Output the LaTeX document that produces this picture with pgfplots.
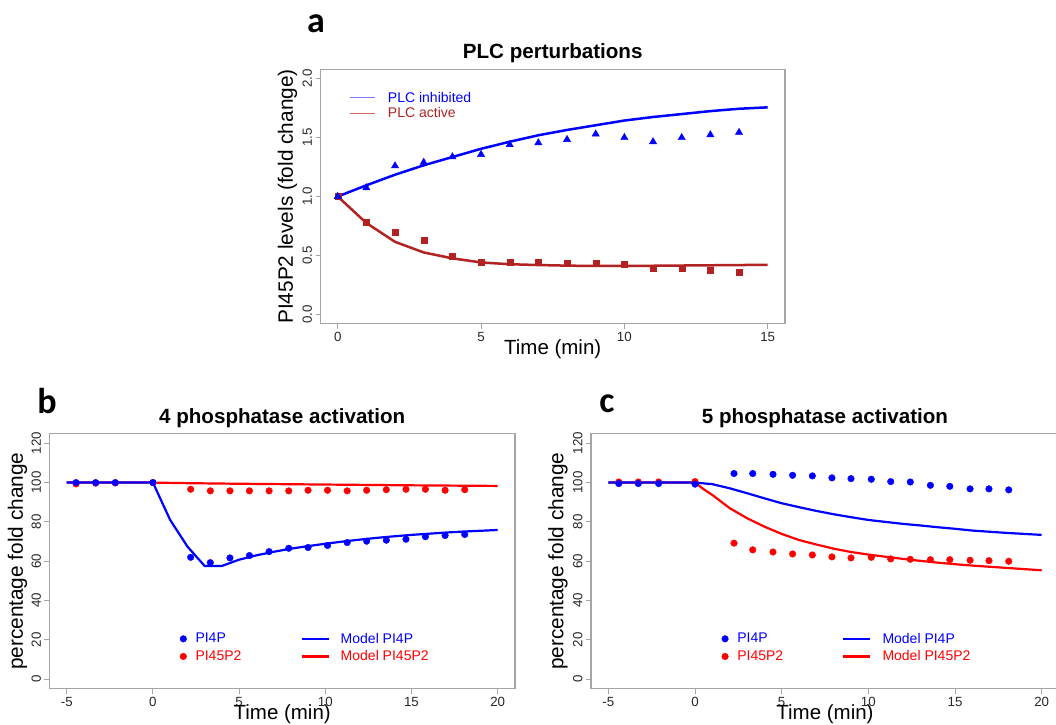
\documentclass[border=0pt]{standalone}
\usepackage{fontspec}
\setmainfont{Liberation Sans}
\newfontfamily\labfont{Carlito}
\usepackage{pgfplots}
\pgfplotsset{compat=1.18}
\definecolor{fb}{RGB}{178,34,34}
\definecolor{axgray}{RGB}{165,165,165}
\definecolor{pblue}{RGB}{0,0,255}
\definecolor{pred}{RGB}{255,0,0}
\definecolor{lblue}{RGB}{120,120,255}
\definecolor{lred}{RGB}{210,100,100}

\pgfplotsset{
  myax/.style={
    scale only axis, anchor=south west,
    axis line style={axgray, line width=1.3pt},
    tick style={axgray, line width=1pt},
    tick align=outside, major tick length=5pt,
    xtick pos=bottom, ytick pos=left,
    ticklabel style={font=\fontsize{13.3}{15}\selectfont, text=black!85},
    /pgf/number format/assume math mode=true,
    yticklabel style={rotate=90, anchor=south},
    xlabel style={font=\fontsize{20.5}{24}\selectfont, at={(axis description cs:0.5,0)}, anchor=center, yshift=-25pt},
    ylabel style={font=\fontsize{20.8}{24}\selectfont, anchor=center},
    title style={font=\bfseries\fontsize{20.6}{24}\selectfont, at={(axis description cs:0.5,1)}, anchor=center, yshift=10pt},
    legend style={draw=none, fill=none, inner sep=0pt, outer sep=0pt, font=\fontsize{14}{16}\selectfont,
      nodes={inner sep=0pt}, row sep=6pt,
      /tikz/every odd column/.style={column sep=8.7pt},
      /tikz/every even column/.style={column sep=59pt}},
    legend cell align=left,
  },
  ptleg/.style={only marks, mark=*, mark size=3.3pt},
}

\begin{document}
\begin{tikzpicture}
\useasboundingbox (0,0) rectangle (1056pt,724pt);

% ---------------- panel a
\begin{axis}[myax, at={(320.5pt,400.3pt)}, width=464.4pt, height=254.4pt,
  xmin=-0.6, xmax=15.6, ymin=-0.08, ymax=2.08,
  xtick={0,5,10,15}, ytick={0,0.5,1,1.5,2},
  yticklabel style={/pgf/number format/.cd, fixed, fixed zerofill, precision=1},
  xlabel={Time (min)}, ylabel={PI45P2 levels (fold change)},
  ylabel style={at={(axis description cs:-0.0711,0.5)}},
  title={PLC perturbations},
  legend style={at={(axis description cs:0.0635,0.911)}, anchor=north west, row sep=4pt,
    /tikz/every odd column/.style={column sep=12pt}},
]
\addplot[fb, line width=2.5pt, forget plot] coordinates {
(0,1.0)(1,0.775)(2,0.615)(3,0.525)(4,0.475)(5,0.44)(6,0.425)(7,0.418)(8,0.413)(9,0.41)(10,0.41)(11,0.412)(12,0.414)(13,0.416)(14,0.418)(15,0.42)};
\addplot[fb, only marks, mark=square*, mark size=3pt, forget plot] coordinates {
(0,1.0)(1,0.78)(2,0.70)(3,0.626)(4,0.493)(5,0.445)(6,0.442)(7,0.44)(8,0.433)(9,0.433)(10,0.425)(11,0.394)(12,0.394)(13,0.371)(14,0.357)};
\addplot[pblue, line width=2.5pt, forget plot] coordinates {
(0,1.0)(1,1.095)(2,1.185)(3,1.265)(4,1.335)(5,1.405)(6,1.465)(7,1.52)(8,1.565)(9,1.605)(10,1.645)(11,1.675)(12,1.70)(13,1.725)(14,1.745)(15,1.757)};
\addplot[pblue, only marks, mark=triangle*, mark size=4.2pt, forget plot] coordinates {
(0,1.0)(1,1.074)(2,1.26)(3,1.29)(4,1.337)(5,1.357)(6,1.44)(7,1.456)(8,1.484)(9,1.53)(10,1.50)(11,1.465)(12,1.50)(13,1.524)(14,1.544)};
\addlegendimage{legend image code/.code={\draw[lblue, line width=1pt] (0pt,0pt) -- (25pt,0pt);}}
\addlegendentry[text=pblue]{PLC inhibited}
\addlegendimage{legend image code/.code={\draw[lred, line width=1pt] (0pt,0pt) -- (25pt,0pt);}}
\addlegendentry[text=fb]{PLC active}
\end{axis}

% ---------------- panel b
\begin{axis}[myax, at={(49.5pt,35.3pt)}, width=465.4pt, height=254.9pt,
  xmin=-6, xmax=21, ymin=-4.8, ymax=124.8,
  xtick={-5,0,5,10,15,20}, ytick={0,20,40,60,80,100,120},
  xlabel={Time (min)}, ylabel={percentage fold change},
  ylabel style={at={(axis description cs:-0.0688,0.5)}},
  title={4 phosphatase activation},
  legend columns=2,
  legend style={at={(axis description cs:0.280,0.2185)}, anchor=north west},
]
\addplot[pred, line width=2.2pt, forget plot] coordinates {
(-5,100)(0,100)(2,99.7)(5,99.4)(10,99.0)(15,98.6)(20,98.3)};
\addplot[pred, ptleg, forget plot] coordinates {
(-4.46,99.3)(-3.32,99.7)(-2.18,99.8)(0,100)(2.19,96.6)(3.33,95.8)(4.47,95.8)(5.6,95.8)(6.74,95.8)(7.88,95.8)(9.0,96.1)(10.13,96.1)(11.27,95.8)(12.4,96.1)(13.54,96.4)(14.68,96.6)(15.81,96.6)(16.95,96.1)(18.09,96.4)};
\addplot[pblue, line width=2.2pt, forget plot] coordinates {
(-5,100)(0,100)(1,81)(2,67.5)(3,57.6)(4,57.6)(5,60.8)(6,63.0)(7,64.8)(8,66.4)(9,67.7)(10,68.9)(11,70.0)(12,71.0)(13,71.9)(14,72.7)(15,73.4)(16,74.0)(17,74.6)(18,75.1)(19,75.5)(20,75.9)};
\addplot[pblue, ptleg, forget plot] coordinates {
(-4.46,100)(-3.32,100)(-2.18,100)(0,100)(2.19,62)(3.33,59.3)(4.47,61.7)(5.6,62.9)(6.74,64.9)(7.88,66.6)(9.0,67)(10.13,68)(11.27,69.5)(12.4,70.2)(13.54,70.7)(14.68,71.2)(15.81,72.5)(16.95,73.1)(18.09,73.6)};
\addlegendimage{legend image code/.code={\fill[pblue] (0pt,0pt) circle (3.3pt);}}
\addlegendentry[text=pblue]{PI4P}
\addlegendimage{legend image code/.code={\draw[pblue, line width=2.2pt] (0pt,0pt) -- (27pt,0pt); \path (30.3pt,0pt);}}
\addlegendentry[text=pblue]{Model PI4P}
\addlegendimage{legend image code/.code={\fill[pred] (0pt,0pt) circle (3.3pt);}}
\addlegendentry[text=pred]{PI45P2}
\addlegendimage{legend image code/.code={\draw[pred, line width=2.2pt] (0pt,0pt) -- (27pt,0pt); \path (30.3pt,0pt);}}
\addlegendentry[text=pred]{Model PI45P2}
\end{axis}

% ---------------- panel c
\begin{axis}[myax, at={(591pt,35.3pt)}, width=468pt, height=254.9pt,
  xmin=-6, xmax=21, ymin=-4.8, ymax=124.8,
  xtick={-5,0,5,10,15,20}, ytick={0,20,40,60,80,100,120},
  xlabel={Time (min)}, ylabel={percentage fold change},
  ylabel style={at={(axis description cs:-0.0705,0.5)}},
  title={5 phosphatase activation},
  legend columns=2,
  legend style={at={(axis description cs:0.279,0.2185)}, anchor=north west},
]
\addplot[pred, line width=2.2pt, forget plot] coordinates {
(-5,100)(0,100)(0.5,96.6)(1,93.7)(2,87)(3,81.9)(4,77.6)(5,73.9)(6,70.8)(7,68.5)(8,66.4)(9,64.7)(10,63.4)(11,62.3)(12,61.2)(13,60.2)(14,59.3)(15,58.5)(16,57.8)(17,57.2)(18,56.6)(19,56)(20,55.4)};
\addplot[pred, ptleg, forget plot] coordinates {
(-4.4,100.3)(-3.27,100.3)(-2.1,100.3)(0,100.5)(2.25,69.2)(3.33,65.8)(4.5,64.7)(5.63,63.7)(6.77,63.2)(7.9,62.2)(9.0,61.7)(10.17,62)(11.29,61.2)(12.42,61)(13.58,60.8)(14.7,60.8)(15.87,60.5)(16.96,60.3)(18.1,60)};
\addplot[pblue, line width=2.2pt, forget plot] coordinates {
(-5,100)(0,100)(1,99.2)(2,97.1)(3,94.6)(4,92)(5,89.5)(6,87.5)(7,85.6)(8,83.9)(9,82.4)(10,81)(11,80)(12,79)(13,78.2)(14,77.3)(15,76.5)(16,75.6)(17,75.0)(18,74.4)(19,73.9)(20,73.4)};
\addplot[pblue, ptleg, forget plot] coordinates {
(-4.4,99.5)(-3.27,99.5)(-2.1,99.5)(0,99.2)(2.25,104.6)(3.33,104.6)(4.5,104.2)(5.63,103.7)(6.77,103.4)(7.9,102.4)(9.0,102)(10.17,101.7)(11.29,100.5)(12.42,100.3)(13.58,98.6)(14.7,98.1)(15.87,96.8)(16.96,96.8)(18.1,96.3)};
\addlegendimage{legend image code/.code={\fill[pblue] (0pt,0pt) circle (3.3pt);}}
\addlegendentry[text=pblue]{PI4P}
\addlegendimage{legend image code/.code={\draw[pblue, line width=2.2pt] (0pt,0pt) -- (27pt,0pt); \path (30.3pt,0pt);}}
\addlegendentry[text=pblue]{Model PI4P}
\addlegendimage{legend image code/.code={\fill[pred] (0pt,0pt) circle (3.3pt);}}
\addlegendentry[text=pred]{PI45P2}
\addlegendimage{legend image code/.code={\draw[pred, line width=2.2pt] (0pt,0pt) -- (27pt,0pt); \path (30.3pt,0pt);}}
\addlegendentry[text=pred]{Model PI45P2}
\end{axis}

% panel letters
\node[font=\labfont\bfseries\fontsize{36}{36}\selectfont, anchor=base] at (316pt,691pt) {a};
\node[font=\labfont\bfseries\fontsize{36}{36}\selectfont, anchor=base] at (47pt,311pt) {b};
\node[font=\labfont\bfseries\fontsize{36}{36}\selectfont, anchor=base] at (607pt,312pt) {c};
\end{tikzpicture}
\end{document}
